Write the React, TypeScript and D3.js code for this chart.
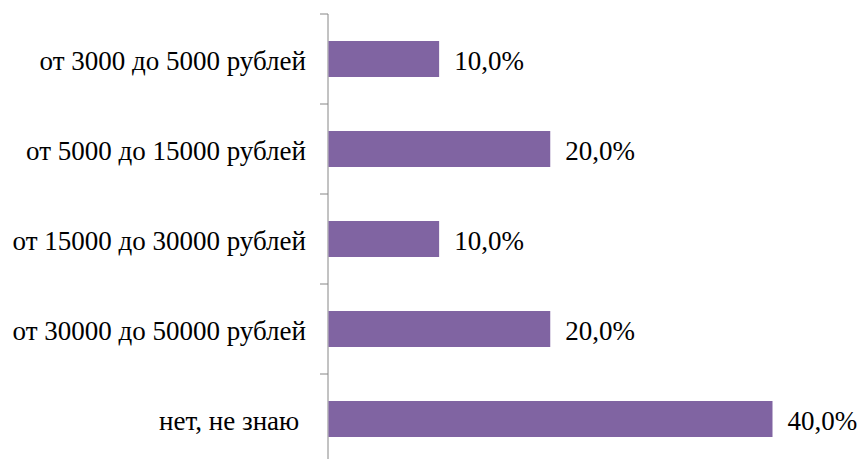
import React from "react";
import * as d3 from "d3";

const categories = [
  "от 3000 до 5000 рублей",
  "от 5000 до 15000 рублей",
  "от 15000 до 30000 рублей",
  "от 30000 до 50000 рублей",
  "нет, не знаю ",
];
const values = [10.0, 20.0, 10.0, 20.0, 40.0];

const W = 861;
const H = 459;

export default function App() {
  const x = d3.scaleLinear().domain([0, 40]).range([328, 772.5]);
  const y = d3
    .scaleBand<string>()
    .domain(categories)
    .range([14, 464])
    .paddingInner(0.6)
    .paddingOuter(0.3);
  const step = y.step();
  const ticks = d3.range(categories.length + 1).map((i) => 14 + i * step);
  const fmt = (v: number) => v.toFixed(1).replace(".", ",") + "%";
  const axisColor = "#868686";
  return (
    <svg
      width={W}
      height={H}
      style={{
        position: "absolute",
        left: 0,
        top: 0,
        background: "#fff",
        fontFamily: '"Liberation Serif", "Times New Roman", "DejaVu Serif", serif',
        fontSize: 27,
      }}
    >
      <line x1={328} x2={328} y1={14} y2={464} stroke={axisColor} strokeWidth={1} />
      {ticks.map((t, i) => (
        <line key={i} x1={320} x2={328} y1={t} y2={t} stroke={axisColor} strokeWidth={1} />
      ))}
      {categories.map((c, i) => {
        const yy = y(c)!;
        const cy = yy + y.bandwidth() / 2;
        return (
          <g key={c}>
            <rect
              x={x(0) + 0.5}
              y={yy}
              width={x(values[i]) - x(0) - 0.5}
              height={y.bandwidth()}
              fill="#8064A2"
            />
            <text
              x={306}
              y={cy}
              dy="0.4em"
              textAnchor="end"
              fill="#000"
              style={{ whiteSpace: "pre" }}
            >
              {c}
            </text>
            <text x={x(values[i]) + 15} y={cy} dy="0.42em" fill="#000">
              {fmt(values[i])}
            </text>
          </g>
        );
      })}
    </svg>
  );
}
